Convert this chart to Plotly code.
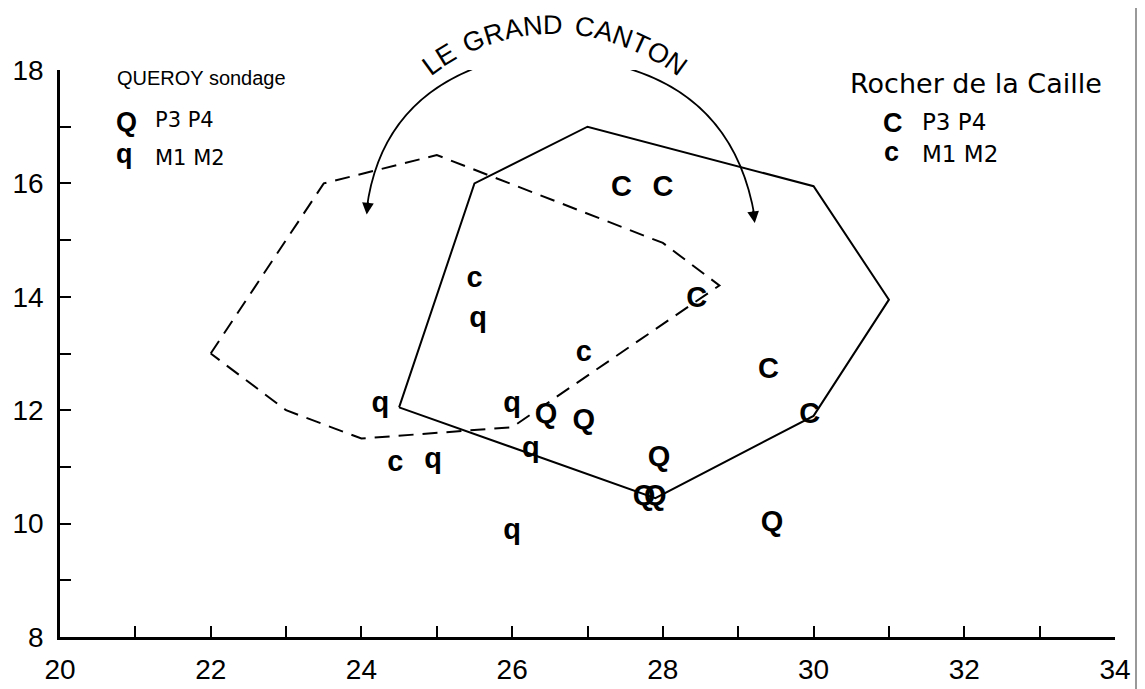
import math
import plotly.graph_objects as go

# ---------------- data ----------------
# Queroy (sondage) P3 P4  -> "Q"
queroy_p_x = [26.45, 26.95, 27.95, 27.75, 27.90, 29.45]
queroy_p_y = [11.90, 11.80, 11.15, 10.45, 10.45, 10.00]
# Queroy M1 M2 -> "q"
queroy_m_x = [24.25, 26.00, 26.25, 24.95, 26.00, 25.55]
queroy_m_y = [12.10, 12.10, 11.30, 11.10, 9.85, 13.60]
# Rocher de la Caille P3 P4 -> "C"
caille_p_x = [27.45, 28.00, 28.45, 29.40, 29.95]
caille_p_y = [15.90, 15.90, 13.95, 12.70, 11.90]
# Rocher de la Caille M1 M2 -> "c"
caille_m_x = [25.50, 26.95, 24.45]
caille_m_y = [14.30, 13.00, 11.05]

# solid polygon (Rocher de la Caille)
solid_x = [24.5, 25.5, 27.0, 30.0, 31.0, 30.0, 27.9, 24.5]
solid_y = [12.05, 16.0, 17.0, 15.95, 13.95, 11.9, 10.45, 12.05]
# dashed polygon (Queroy)
dashed_x = [22.0, 23.5, 25.0, 28.0, 28.75, 26.0, 24.0, 23.0, 22.0]
dashed_y = [13.0, 16.0, 16.5, 14.95, 14.2, 11.7, 11.5, 12.0, 13.0]

x_ticks = list(range(20, 35))
x_ticktext = [str(v) if v % 2 == 0 else "" for v in x_ticks]
y_ticks = list(range(8, 19))
y_ticktext = [str(v) if v % 2 == 0 else "" for v in y_ticks]

arc_title = "LE GRAND CANTON"

# ---------------- figure ----------------
OFF = 8                      # page body margin in the browser
W, H = 1137, 681
PW, PH = 1055, 567
ML, MT = 52, 62
MR, MB = W - ML - PW, H - MT - PH

MARK_FONT = "Liberation Sans, Arial, sans-serif"
SANS = "Liberation Sans, Arial, sans-serif"
WIDE = "DejaVu Sans, Verdana, sans-serif"


def paper_x(px):
    return (px - OFF - ML) / PW


def paper_y(py):
    return (MT + PH - (py - OFF)) / PH


fig = go.Figure()

fig.add_trace(go.Scatter(x=dashed_x, y=dashed_y, mode="lines",
                         line=dict(color="black", width=2, dash="15px,9px"),
                         hoverinfo="skip", showlegend=False))
fig.add_trace(go.Scatter(x=solid_x, y=solid_y, mode="lines",
                         line=dict(color="black", width=2),
                         hoverinfo="skip", showlegend=False))

for xs, ys, sym in [(queroy_p_x, queroy_p_y, "Q"), (queroy_m_x, queroy_m_y, "q"),
                    (caille_p_x, caille_p_y, "C"), (caille_m_x, caille_m_y, "c")]:
    fig.add_trace(go.Scatter(x=xs, y=ys, mode="text", text=[sym] * len(xs),
                             textposition="middle center",
                             textfont=dict(family=MARK_FONT, size=29, color="black", weight="bold"),
                             cliponaxis=False, showlegend=False, name=sym))

annotations = []


def txt(x, y, s, size, family, bold=False, xanchor="left"):
    annotations.append(dict(x=x, y=y, xref="x", yref="y", text=s, showarrow=False,
                            xanchor=xanchor, yanchor="middle",
                            font=dict(family=family, size=size, color="black",
                                      weight="bold" if bold else "normal")))


txt(20.73, 17.86, "QUEROY sondage", 20, SANS)
txt(20.88, 17.08, "Q", 27, MARK_FONT, True, "center")
txt(21.24, 17.12, "P3 P4", 21, WIDE)
txt(20.86, 16.52, "q", 27, MARK_FONT, True, "center")
txt(21.24, 16.45, "M1 M2", 21, WIDE)

txt(30.46, 17.76, "Rocher de la Caille", 27, WIDE)
txt(31.05, 17.07, "C", 27, MARK_FONT, True, "center")
txt(31.41, 17.08, "P3 P4", 23, WIDE)
txt(31.03, 16.55, "c", 27, MARK_FONT, True, "center")
txt(31.41, 16.52, "M1 M2", 23, WIDE)

# curved title: letters placed along an arc (screen-pixel circle), spaced by glyph width
cx_px, cy_px, R_px = 554, 234, 209
a_start, a_end = -36.0, 35.7
widths = {"L": .556, "E": .667, " ": .40, "G": .778, "R": .722, "A": .667, "N": .722,
          "D": .722, "C": .722, "T": .611, "O": .778}
centers, pos = [], 0.0
for ch in arc_title:
    w = widths.get(ch, .6)
    centers.append(pos + w / 2)
    pos += w
c0, c1 = centers[0], centers[-1]
for ch, c in zip(arc_title, centers):
    if ch == " ":
        continue
    a = a_start + (c - c0) / (c1 - c0) * (a_end - a_start)
    r = math.radians(a)
    px = cx_px + R_px * math.sin(r)
    py = cy_px - R_px * math.cos(r)
    annotations.append(dict(x=paper_x(px), y=paper_y(py), xref="paper", yref="paper",
                            text=ch, showarrow=False, textangle=a,
                            xanchor="center", yanchor="middle",
                            font=dict(family=SANS, size=27, color="black")))

# curved arrows
shapes = [
    dict(type="path", xref="x", yref="y", path="M 25.51,18.035 Q 24.25,17.38 24.07,15.55",
         line=dict(color="black", width=1.8)),
    dict(type="path", xref="x", yref="y", path="M 27.52,18.035 Q 28.96,17.47 29.22,15.4",
         line=dict(color="black", width=1.8)),
    dict(type="line", xref="paper", yref="paper", x0=paper_x(1136), x1=paper_x(1136),
         y0=paper_y(6), y1=paper_y(689), line=dict(color="#777777", width=1.5)),
]
annotations.append(dict(x=24.07, y=15.45, xref="x", yref="y", ax=1.5, ay=-14, text="",
                        showarrow=True, arrowhead=2, arrowsize=1.3, arrowwidth=1.8, arrowcolor="black"))
annotations.append(dict(x=29.22, y=15.3, xref="x", yref="y", ax=-2, ay=-14, text="",
                        showarrow=True, arrowhead=2, arrowsize=1.3, arrowwidth=1.8, arrowcolor="black"))

tickfont = dict(family=SANS, size=28, color="black")
fig.update_layout(
    width=W, height=H,
    margin=dict(l=ML, r=MR, t=MT, b=MB, pad=0, autoexpand=False),
    paper_bgcolor="white", plot_bgcolor="white",
    annotations=annotations, shapes=shapes,
    showlegend=False,
    xaxis=dict(range=[20, 34], tickvals=x_ticks, ticktext=x_ticktext, ticks="inside",
               ticklen=11, tickwidth=2, tickcolor="black", showline=True, linewidth=2.5,
               linecolor="black", showgrid=False, zeroline=False, tickfont=tickfont,
               ticklabelstandoff=6, automargin=False),
    yaxis=dict(range=[8, 18], tickvals=y_ticks, ticktext=y_ticktext, ticks="inside",
               ticklen=11, tickwidth=2, tickcolor="black", showline=True, linewidth=2.5,
               linecolor="black", showgrid=False, zeroline=False, tickfont=tickfont,
               ticklabelstandoff=8, automargin=False),
)

fig.write_html("out.html")
